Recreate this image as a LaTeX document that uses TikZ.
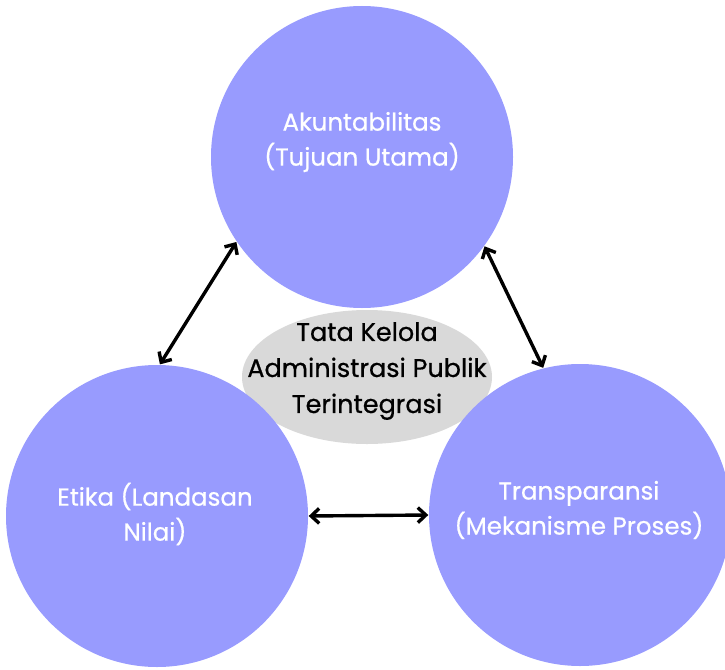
\documentclass[tikz,border=0pt]{standalone}
\usepackage{fontspec}
\setmainfont{Poppins}[FakeBold=0.6]
\usetikzlibrary{arrows.meta,shapes.geometric}
\definecolor{pillar}{RGB}{152,155,254}
\definecolor{core}{RGB}{217,217,217}
\tikzset{
  pillar/.style={circle, fill=pillar, draw=none, minimum size=302pt, inner sep=0pt},
  pillartext/.style={text=white, align=center, font=\fontsize{24.5}{35}\selectfont},
  coretext/.style={text=black, align=center, font=\fontsize{25.5}{36}\selectfont},
  link/.style={line width=3.4pt, {Straight Barb[length=8pt,width=15pt,line width=3.4pt]}-{Straight Barb[length=8pt,width=15pt,line width=3.4pt]}, shorten <=0.5pt, shorten >=0.5pt}
}
\begin{document}
\begin{tikzpicture}[x=1pt, y=-1pt]
  \useasboundingbox (0,0) rectangle (725,669);
  % central hub, drawn first so the circles overlap it
  \node[ellipse, fill=core, minimum width=250pt, minimum height=134pt, inner sep=0pt] (hub) at (367,377) {};
  \node[coretext] (hubtext) at (367,371) {Tata Kelola\\Administrasi Publik\\Terintegrasi};
  % the three pillars
  \node[pillar] (akun) at (362,157) {};
  \node[pillar] (etika) at (157,516) {};
  \node[pillar] (trans) at (580,515) {};
  \node[pillartext] (akuntext) at (362,142) {Akuntabilitas\\(Tujuan Utama)};
  \node[pillartext] (etikatext) at (155,514) {Etika (Landasan\\Nilai)};
  \node[pillartext] (transtext) at (579,510) {Transparansi\\(Mekanisme Proses)};
  % two-way links between the pillars
  \draw[link] (etika.89) -- (akun.214);
  \draw[link] (akun.-36) -- (trans.104);
  \draw[link] (etika.0) -- (trans.180);
\end{tikzpicture}
\end{document}
